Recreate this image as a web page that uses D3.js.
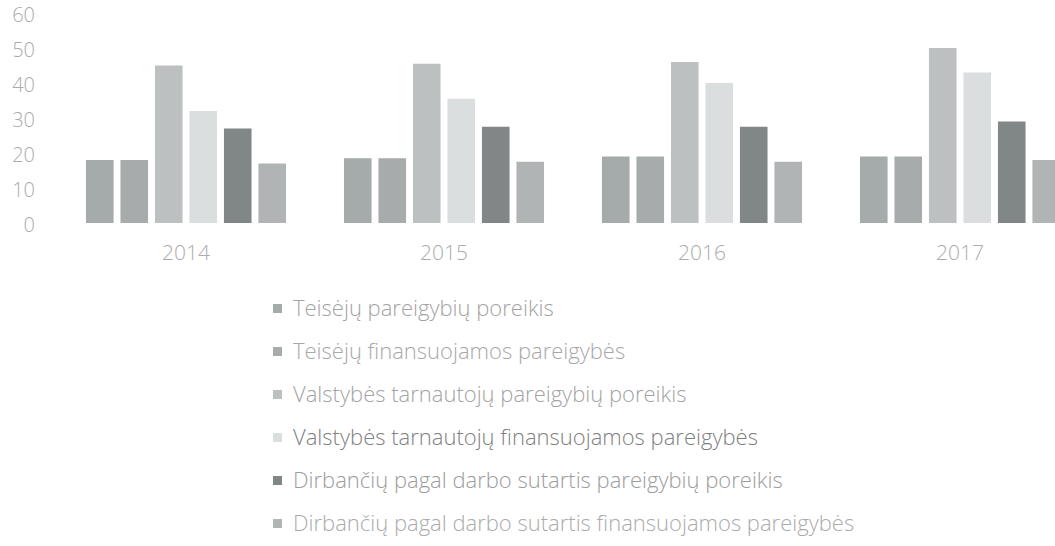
<!DOCTYPE html>
<html>
<head>
<meta charset="utf-8">
<script src="https://cdn.jsdelivr.net/npm/d3@7"></script>
<style>
  body { margin: 0; background: #fff; }
  svg text { font-family: "Open Sans", Lato, sans-serif; }
</style>
</head>
<body>
<div id="chart"></div>
<script>
// Data
const years = ["2014", "2015", "2016", "2017"];
const seriesNames = [
    "Teisėjų pareigybių poreikis",
    "Teisėjų finansuojamos pareigybės",
    "Valstybės tarnautojų pareigybių poreikis",
    "Valstybės tarnautojų finansuojamos pareigybės",
    "Dirbančių pagal darbo sutartis pareigybių poreikis",
    "Dirbančių pagal darbo sutartis finansuojamos pareigybės"
];
const judgesNeed      = [18, 18.5, 19, 19];
const judgesFunded    = [18, 18.5, 19, 19];
const civilNeed       = [45, 45.5, 46, 50];
const civilFunded     = [32, 35.5, 40, 43];
const contractNeed    = [27, 27.5, 27.5, 29];
const contractFunded  = [17, 17.5, 17.5, 18];
const yTicks = [0, 10, 20, 30, 40, 50, 60];

const seriesValues = [judgesNeed, judgesFunded, civilNeed, civilFunded, contractNeed, contractFunded];
const colors = ["#a5aaaa", "#a7abab", "#bcc0c1", "#dadedf", "#818787", "#b0b4b4"];
const legendText = ["#a3a3a3", "#a8a8a8", "#a3a3a3", "#808080", "#9c9c9c", "#ababab"];

const width = 1055, height = 546;

const svg = d3.select("#chart").append("svg")
    .attr("width", width)
    .attr("height", height);

// Scales
const x0 = d3.scaleBand()
    .domain(years)
    .range([57, 1089]);

const x1 = d3.scaleBand()
    .domain(d3.range(seriesNames.length))
    .range([0, x0.bandwidth()])
    .paddingInner(0.2)
    .paddingOuter(0.84);

const y = d3.scaleLinear()
    .domain([0, 60])
    .range([223, 13]);

// Y axis (labels only)
const yAxis = svg.append("g")
    .attr("transform", "translate(35,0)")
    .call(d3.axisLeft(y).tickValues(yTicks).tickSize(0).tickPadding(0));
yAxis.select(".domain").remove();
yAxis.selectAll("text")
    .attr("fill", "#ababab")
    .attr("dy", "0.4em")
    .style("font-size", "20px")
    .style("font-weight", "300");

// Bars
const groups = svg.selectAll("g.year")
    .data(years)
    .enter()
    .append("g")
    .attr("class", "year")
    .attr("transform", d => `translate(${x0(d)},0)`);

groups.selectAll("rect")
    .data((d, i) => seriesValues.map((vals, s) => ({ s, v: vals[i] })))
    .enter()
    .append("rect")
    .attr("x", d => x1(d.s))
    .attr("width", x1.bandwidth())
    .attr("y", d => y(d.v))
    .attr("height", d => y(0) - y(d.v))
    .attr("fill", d => colors[d.s]);

// X axis (labels only)
const xAxis = svg.append("g")
    .attr("transform", "translate(0,253)")
    .call(d3.axisBottom(x0).tickSize(0).tickPadding(0));
xAxis.select(".domain").remove();
xAxis.selectAll("text")
    .attr("fill", "#ababab")
    .attr("dy", "0.35em")
    .style("font-size", "21px")
    .style("font-weight", "300");

// Legend
const legend = svg.append("g")
    .attr("transform", "translate(273,308)");

seriesNames.forEach((name, i) => {
    const row = legend.append("g").attr("transform", `translate(0, ${i * 43})`);
    row.append("rect")
        .attr("y", -4)
        .attr("width", 9)
        .attr("height", 9)
        .attr("fill", colors[i]);
    row.append("text")
        .attr("x", 20)
        .attr("dy", "0.35em")
        .attr("fill", legendText[i])
        .style("font-size", "22px")
        .style("font-weight", "300")
        .text(name);
});
</script>
</body>
</html>
